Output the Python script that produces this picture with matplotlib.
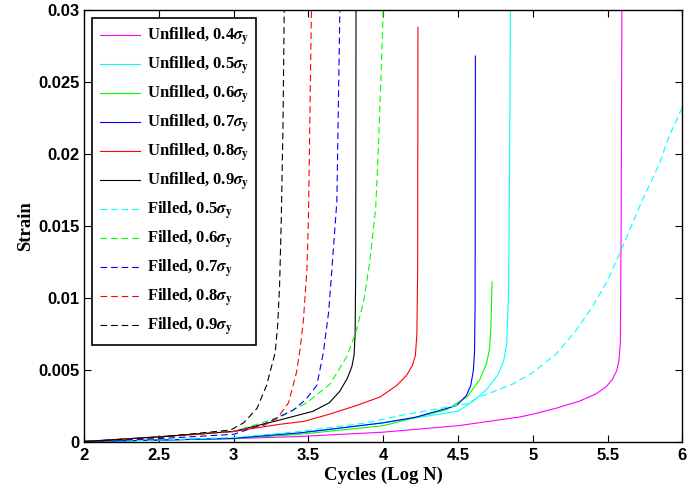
import matplotlib
matplotlib.use("Agg")
import matplotlib.pyplot as plt
from matplotlib.ticker import FuncFormatter

plt.rcParams['font.family'] = 'Liberation Serif'
plt.rcParams['font.weight'] = 'bold'
plt.rcParams['mathtext.fontset'] = 'stix'

# Unfilled curves (solid)
x_u04 = [2.0, 2.5, 3.0, 3.44, 4.0, 4.5, 4.91, 5.0, 5.15, 5.31, 5.42, 5.49, 5.53, 5.56, 5.575, 5.585, 5.59, 5.595]
y_u04 = [0, 0.0001, 0.0002, 0.00035, 0.00065, 0.0011, 0.0017, 0.0019, 0.0023, 0.0028, 0.0033, 0.0038, 0.0043, 0.0049, 0.0056, 0.0069, 0.015, 0.03]

x_u05 = [2.0, 2.5, 3.0, 3.44, 4.0, 4.5, 4.6, 4.69, 4.77, 4.805, 4.825, 4.838, 4.845, 4.85]
y_u05 = [0, 0.0001, 0.00022, 0.0006, 0.0013, 0.0021, 0.0028, 0.0036, 0.0047, 0.0056, 0.0068, 0.0105, 0.02, 0.03]

x_u06 = [2.0, 2.5, 3.0, 3.44, 4.0, 4.42, 4.56, 4.645, 4.69, 4.71, 4.72, 4.727]
y_u06 = [0, 0.0001, 0.0002, 0.0005, 0.0011, 0.0022, 0.0031, 0.0043, 0.0054, 0.0064, 0.008, 0.0111]

x_u07 = [2.0, 2.5, 3.0, 3.44, 3.67, 4.0, 4.22, 4.49, 4.556, 4.585, 4.602, 4.61, 4.614, 4.616]
y_u07 = [0, 0.0001, 0.00022, 0.0006, 0.00088, 0.0013, 0.0017, 0.0025, 0.0032, 0.0039, 0.0049, 0.0062, 0.0095, 0.0268]

x_u08 = [2.0, 2.5, 3.0, 3.31, 3.47, 3.64, 3.82, 3.98, 4.09, 4.156, 4.195, 4.215, 4.225, 4.23, 4.232]
y_u08 = [0, 0.00033, 0.0007, 0.0012, 0.0014, 0.0019, 0.0025, 0.0031, 0.0039, 0.0046, 0.0053, 0.006, 0.0075, 0.012, 0.0288]

x_u09 = [2.0, 2.5, 3.0, 3.31, 3.53, 3.64, 3.71, 3.76, 3.79, 3.805, 3.812, 3.816, 3.818]
y_u09 = [0, 0.00033, 0.0007, 0.0015, 0.0021, 0.0027, 0.0035, 0.0044, 0.0052, 0.006, 0.0075, 0.012, 0.03]

# Filled curves (dashed)
x_f05 = [2.0, 2.5, 3.0, 3.44, 3.89, 4.11, 4.378, 4.55, 4.645, 4.867, 5.0, 5.156, 5.28, 5.40, 5.5, 5.59, 5.733, 5.845, 5.91, 6.0]
y_f05 = [0, 0.0001, 0.00028, 0.0007, 0.0013, 0.0018, 0.0023, 0.0026, 0.0031, 0.004, 0.0048, 0.0061, 0.0076, 0.0094, 0.0112, 0.0133, 0.0168, 0.0193, 0.0212, 0.02325]

x_f06 = [2.0, 2.5, 3.0, 3.31, 3.49, 3.645, 3.756, 3.82, 3.87, 3.91, 3.95, 3.97, 4.0]
y_f06 = [0, 0.0003, 0.0007, 0.0017, 0.0027, 0.004, 0.0059, 0.0077, 0.0098, 0.0125, 0.0163, 0.021, 0.03]

x_f07 = [2.0, 2.5, 3.0, 3.2, 3.4, 3.48, 3.556, 3.60, 3.635, 3.657, 3.69, 3.71]
y_f07 = [0, 0.0002, 0.0005, 0.0012, 0.0022, 0.0029, 0.0039, 0.0062, 0.009, 0.012, 0.0167, 0.03]

x_f08 = [2.0, 2.5, 3.0, 3.2, 3.29, 3.367, 3.42, 3.445, 3.467, 3.49, 3.5, 3.52]
y_f08 = [0, 0.0003, 0.0007, 0.0011, 0.0016, 0.0027, 0.0048, 0.0065, 0.0085, 0.012, 0.0155, 0.03]

x_f09 = [2.0, 2.5, 2.98, 3.067, 3.156, 3.22, 3.278, 3.295, 3.307, 3.318, 3.33, 3.338]
y_f09 = [0, 0.0003, 0.0008, 0.0013, 0.0023, 0.0039, 0.0062, 0.0082, 0.0108, 0.0152, 0.022, 0.03]

unfilled = [(x_u04, y_u04, '#ff00ff', '0.4'), (x_u05, y_u05, '#00ffff', '0.5'),
            (x_u06, y_u06, '#00ff00', '0.6'), (x_u07, y_u07, '#0000ff', '0.7'),
            (x_u08, y_u08, '#ff0000', '0.8'), (x_u09, y_u09, '#000000', '0.9')]
filled = [(x_f05, y_f05, '#00ffff', '0.5'), (x_f06, y_f06, '#00ff00', '0.6'),
          (x_f07, y_f07, '#0000ff', '0.7'), (x_f08, y_f08, '#ff0000', '0.8'),
          (x_f09, y_f09, '#000000', '0.9')]

fig = plt.figure(figsize=(6.87, 4.92), dpi=100)
ax = fig.add_axes([0.1223, 0.1026, 0.8711, 0.8771])

for x, y, c, s in unfilled:
    ax.plot(x, y, color=c, lw=0.8, label='Unfilled, ' + s + r'$\sigma_\mathbf{y}$')
for x, y, c, s in filled:
    ax.plot(x, y, color=c, lw=0.8, dashes=(6, 3.5), label='Filled, ' + s + r'$\sigma_\mathbf{y}$')

ax.set_xlim(2, 6)
ax.set_ylim(0, 0.03)
ax.set_xticks([2, 2.5, 3, 3.5, 4, 4.5, 5, 5.5, 6])
ax.set_yticks([0, 0.005, 0.01, 0.015, 0.02, 0.025, 0.03])
ax.xaxis.set_major_formatter(FuncFormatter(lambda v, p: '%g' % v))
ax.yaxis.set_major_formatter(FuncFormatter(lambda v, p: '%g' % v))
ax.tick_params(direction='in', top=True, right=True, length=5, width=0.8)
ax.tick_params(axis='x', pad=5)
ax.tick_params(axis='y', pad=3)
for lab in ax.get_xticklabels() + ax.get_yticklabels():
    lab.set_fontfamily('Liberation Sans')
    lab.set_fontsize(12)
    lab.set_fontweight('bold')
for sp in ax.spines.values():
    sp.set_linewidth(1.0)

ax.set_xlabel('Cycles (Log N)', fontsize=13.5, fontweight='bold', labelpad=2)
ax.set_ylabel('Strain', fontsize=13.5, fontweight='bold', labelpad=3)

leg = ax.legend(loc='upper left', fontsize=12, fancybox=False, framealpha=1,
                edgecolor='black', handlelength=2.4, labelspacing=0.4,
                borderaxespad=0.5, handletextpad=0.4, borderpad=0.45)
leg.get_frame().set_linewidth(1.2)

fig.savefig('out.png', dpi=100)
